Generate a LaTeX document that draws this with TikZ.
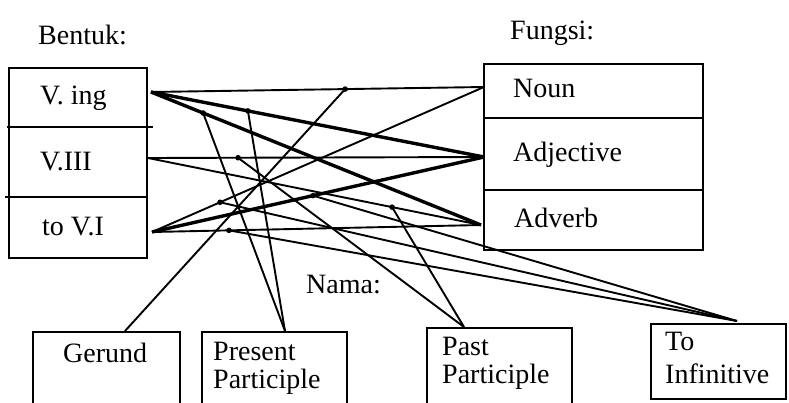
\documentclass[tikz,border=0pt]{standalone}
\usepackage{fontspec}
\setmainfont{Liberation Serif}
\usetikzlibrary{calc}
\begin{document}
\begin{tikzpicture}[x=1pt,y=-1pt,
  boxline/.style={line width=1.6pt},
  thinlink/.style={line width=1.9pt},
  thicklink/.style={line width=3.4pt},
  lbl/.style={font=\fontsize{28}{29}\selectfont, inner sep=0pt, anchor=base west},
  dotmark/.style={fill=black}]
\useasboundingbox (0,0) rectangle (789,402);
\clip (0,0) rectangle (789,402);

% headings
\node[lbl] (bentuk) at (38,44) {Bentuk:};
\node[lbl] (fungsi) at (510,39) {Fungsi:};
\node[lbl] (nama) at (306,293) {Nama:};

% left box (Bentuk)
\draw[boxline] (9,68) rectangle (147,258);
\draw[boxline] (7,127) -- (153,127);
\draw[boxline] (5,197) -- (148,197);
\node[lbl] (tving) at (40,104) {V. ing};
\node[lbl] (tviii) at (40,170) {V.III};
\node[lbl] (ttovi) at (42,235) {to V.I};

% right box (Fungsi)
\draw[boxline] (484,64) rectangle (703,250);
\draw[boxline] (484,118) -- (703,118);
\draw[boxline] (484,190) -- (703,190);
\node[lbl] (tnoun) at (513,97) {Noun};
\node[lbl] (tadj) at (513,161) {Adjective};
\node[lbl] (tadv) at (514,227) {Adverb};

% bottom boxes (Nama)
\draw[boxline] (33,410) -- (33,332) -- (180,332) -- (180,410);
\draw[boxline] (202,410) -- (202,332) -- (347,332) -- (347,410);
\draw[boxline] (427,410) -- (427,328) -- (572,328) -- (572,410);
\draw[boxline] (651,399) rectangle (786,324);
\node[lbl] (tger) at (63,362) {Gerund};
\node[lbl] (tpres1) at (213,360) {Present};
\node[lbl] (tpres2) at (213,388) {Participle};
\node[lbl] (tpast1) at (442,355) {Past};
\node[lbl] (tpast2) at (442,383) {Participle};
\node[lbl] (tto1) at (665,350) {To};
\node[lbl] (tto2) at (665,383) {Infinitive};

% connection points
\coordinate (ving) at (151,92);
\coordinate (viii) at (148,158);
\coordinate (tovi) at (152,232);
\coordinate (noun) at (484,87);
\coordinate (adj) at (484,157);
\coordinate (adv) at (481,225);
\coordinate (ger) at (125,331);
\coordinate (pres) at (285,331);
\coordinate (past) at (464,327);
\coordinate (toinf) at (737,321);

% Bentuk -> Fungsi
\draw[thinlink] (ving) -- (noun);
\draw[thicklink] (ving) -- (adj);
\draw[thicklink] (ving) -- (adv);
\draw[thinlink] (viii) -- (adj);
\draw[thinlink] (viii) -- (adv);
\draw[thinlink] (tovi) -- (noun);
\draw[thicklink] (tovi) -- (adj);
\draw[thinlink] (tovi) -- (adv);

% points on the links
\coordinate (g1) at ($(ving)!0.583!(noun)$);
\coordinate (p1) at ($(ving)!0.158!(adv)$);
\coordinate (p2) at ($(ving)!0.291!(adj)$);
\coordinate (q1) at ($(viii)!0.268!(adj)$);
\coordinate (q2) at ($(viii)!0.733!(adv)$);
\coordinate (r1) at ($(tovi)!0.205!(noun)$);
\coordinate (r2) at ($(tovi)!0.485!(adj)$);
\coordinate (r3) at ($(tovi)!0.234!(adv)$);

\foreach \d in {g1,p1,p2,q1,q2,r1,r2,r3} \fill[dotmark] (\d) circle (2.8);

% links to Nama
\draw[thinlink] (g1) -- (ger);
\draw[thinlink] (p1) -- (pres);
\draw[thinlink] (p2) -- (pres);
\draw[thinlink] (q1) -- (past);
\draw[thinlink] (q2) -- (past);
\draw[thinlink] (r1) -- (toinf);
\draw[thinlink] (r2) -- (toinf);
\draw[thinlink] (r3) -- (toinf);
\end{tikzpicture}
\end{document}
